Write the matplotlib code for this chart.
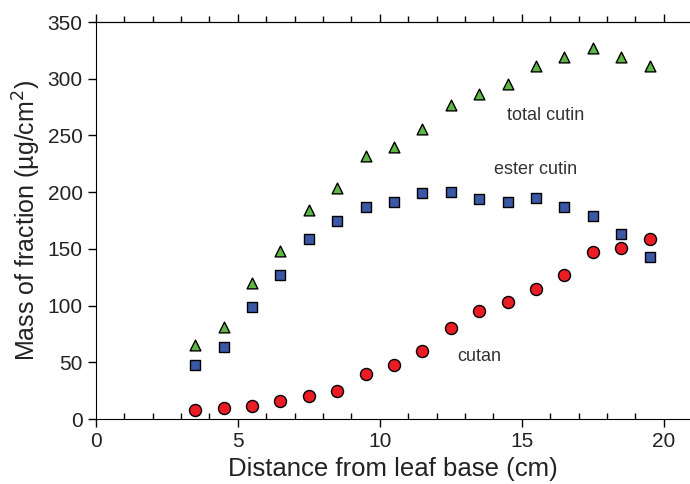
import numpy as np
import matplotlib.pyplot as plt
from matplotlib.ticker import MultipleLocator

plt.rcParams['font.family'] = ['Liberation Sans', 'DejaVu Sans']

# distance from leaf base (cm)
distance = [3.5, 4.5, 5.5, 6.5, 7.5, 8.5, 9.5, 10.5, 11.5, 12.5,
            13.5, 14.5, 15.5, 16.5, 17.5, 18.5, 19.5]
total_cutin = [65, 81, 120, 148, 184, 204, 232, 240, 256, 277,
               287, 295, 311, 319, 327, 319, 311]
ester_cutin = [48, 64, 99, 127, 159, 175, 187, 191, 199, 200,
               194, 191, 195, 187, 179, 163, 143]
cutan = [8, 10, 12, 16, 20, 25, 40, 48, 60, 80,
         95, 103, 115, 127, 147, 151, 159]

fig = plt.figure(figsize=(6.9, 4.84), dpi=100)
ax = fig.add_axes([0.139, 0.134, 0.86, 0.8205])

ax.scatter(distance, total_cutin, marker='^', s=60, color='#5db843',
           edgecolor='black', linewidth=1, zorder=3)
ax.scatter(distance, ester_cutin, marker='s', s=48, color='#3b58a6',
           edgecolor='black', linewidth=1, zorder=3)
ax.scatter(distance, cutan, marker='o', s=75, color='#ec1c24',
           edgecolor='black', linewidth=1, zorder=3)

ax.text(15.85, 268, 'total cutin', fontsize=13, color='#333333', ha='center', va='center')
ax.text(15.5, 220, 'ester cutin', fontsize=13, color='#333333', ha='center', va='center')
ax.text(13.5, 55, 'cutan', fontsize=13, color='#333333', ha='center', va='center')

ax.set_xlim(0, 20.9)
ax.set_ylim(0, 350)
ax.xaxis.set_major_locator(MultipleLocator(5))
ax.xaxis.set_minor_locator(MultipleLocator(1))
ax.yaxis.set_major_locator(MultipleLocator(50))

ax.spines['right'].set_visible(False)
ax.tick_params(which='major', direction='out', length=6, width=1, labelsize=15,
               labelcolor='#222222')
ax.tick_params(axis='x', which='minor', direction='in', length=4, width=1)

# top axis: ticks pointing outward, no labels
top = ax.secondary_xaxis('top')
top.xaxis.set_major_locator(MultipleLocator(5))
top.xaxis.set_minor_locator(MultipleLocator(1))
top.tick_params(which='major', direction='out', length=6, width=1, labeltop=False)
top.tick_params(which='minor', direction='out', length=4, width=1)

ax.set_xlabel('Distance from leaf base (cm)', fontsize=18.5, color='#222222', labelpad=4)
ax.set_ylabel('Mass of fraction (\u00b5g/cm$^2$)', fontsize=18, color='#222222', labelpad=3)

fig.savefig('out.png', dpi=100)
